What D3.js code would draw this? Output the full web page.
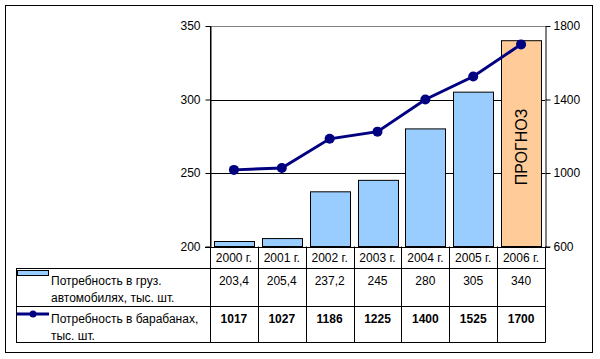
<!DOCTYPE html>
<html><head><meta charset="utf-8">
<script src="https://cdn.jsdelivr.net/npm/d3@7"></script>
<style>body{margin:0;background:#fff}svg{display:block;font-family:"Liberation Sans",Arial,sans-serif}</style>
</head><body><svg id="c" width="600" height="359"></svg>
<script>
const years = ["2000 г.","2001 г.","2002 г.","2003 г.","2004 г.","2005 г.","2006 г."];
const trucks = [203.4,205.4,237.2,245,280,305,340];
const truckLabels = ["203,4","205,4","237,2","245","280","305","340"];
const drums = [1017,1027,1186,1225,1400,1525,1700];
const leftTicks = [200,250,300,350];
const rightTicks = [600,1000,1400,1800];
const seriesNames = [["Потребность в груз.","автомобилях, тыс. шт."],["Потребность в барабанах,","тыс. шт."]];
const forecastLabel = "ПРОГНОЗ";

const svg = d3.select("#c");
const L=210, R=545, T=26, B=246.5;
const x = d3.scaleBand().domain(years).range([L,R]).paddingInner(0.166).paddingOuter(0.083);
const xc = d3.scaleBand().domain(years).range([L,R]);
const yL = d3.scaleLinear().domain([200,350]).range([B,T]);
const yR = d3.scaleLinear().domain([600,1800]).range([B,T]);

// outer border
svg.append("rect").attr("x",5.5).attr("y",5.5).attr("width",587).attr("height",347).attr("fill","none").attr("stroke","#000");

// gridlines
svg.append("g").selectAll("line").data(leftTicks.filter(d=>d>200)).join("line")
  .attr("x1",L).attr("x2",R).attr("y1",d=>Math.round(yL(d))+0.5).attr("y2",d=>Math.round(yL(d))+0.5)
  .attr("stroke",d=>d===350?"#808080":"#000");

// bars
svg.append("g").selectAll("rect").data(years).join("rect")
  .attr("x",d=>Math.round(x(d))+0.5).attr("width",Math.round(x.bandwidth()))
  .attr("y",(d,i)=>yL(trucks[i])).attr("height",(d,i)=>B-yL(trucks[i]))
  .attr("fill",(d,i)=>i===6?"#FFCC99":"#99CCFF").attr("stroke","#000").attr("stroke-width",1);

// forecast label
const lastX = xc(years[6])+xc.bandwidth()/2;
svg.append("text").attr("transform",`translate(${lastX+6},147) rotate(-90)`)
  .attr("text-anchor","middle").attr("font-size",16).attr("fill","#000").text(forecastLabel);

// axes
const axL = svg.append("g").attr("transform",`translate(${L+0.5},0)`).call(d3.axisLeft(yL).tickValues(leftTicks).tickFormat(d3.format("d")).tickSize(5).tickSizeOuter(0));
const axR = svg.append("g").attr("transform",`translate(${R+0.5},0)`).call(d3.axisRight(yR).tickValues(rightTicks).tickFormat(d3.format("d")).tickSize(5).tickSizeOuter(0));
[axL,axR].forEach(a=>{a.select(".domain").attr("stroke","#000");a.selectAll("line").attr("stroke","#000");a.selectAll("text").attr("font-size",12).attr("fill","#000").attr("font-family","Liberation Sans, Arial, sans-serif");});
axL.selectAll("text").attr("x",-10);
axR.selectAll("text").attr("x",8);

// line
const lineGen = d3.line().x((d,i)=>xc(years[i])+xc.bandwidth()/2).y(d=>yR(d));
svg.append("path").datum(drums).attr("d",lineGen).attr("fill","none").attr("stroke","#000080").attr("stroke-width",3);
svg.append("g").selectAll("circle").data(drums).join("circle")
  .attr("cx",(d,i)=>xc(years[i])+xc.bandwidth()/2).attr("cy",d=>yR(d)).attr("r",5).attr("fill","#000080");

// table
const tb = svg.append("g");
const TL = 16;
tb.append("line").attr("x1",L-5).attr("x2",R+5).attr("y1",Math.round(B)+0.5).attr("y2",Math.round(B)+0.5).attr("stroke","#000");
[268,306,342].forEach(yv=>tb.append("line").attr("x1",TL).attr("x2",R+0.5).attr("y1",yv+0.5).attr("y2",yv+0.5).attr("stroke","#000"));
tb.append("line").attr("x1",TL+0.5).attr("x2",TL+0.5).attr("y1",268).attr("y2",342.5).attr("stroke","#000");
years.forEach((d,i)=>{
  const xx = Math.round(xc(d))+0.5;
  tb.append("line").attr("x1",xx).attr("x2",xx).attr("y1",B).attr("y2",342.5).attr("stroke","#000");
});
tb.append("line").attr("x1",R+0.5).attr("x2",R+0.5).attr("y1",B).attr("y2",342.5).attr("stroke","#000");
tb.append("line").attr("x1",L+0.5).attr("x2",L+0.5).attr("y1",T).attr("y2",B).attr("stroke","#000");

years.forEach((d,i)=>{
  const cx = xc(d)+xc.bandwidth()/2;
  tb.append("text").attr("x",cx).attr("y",262).attr("text-anchor","middle").attr("font-size",12).text(d);
  tb.append("text").attr("x",cx).attr("y",285).attr("text-anchor","middle").attr("font-size",12).text(truckLabels[i]);
  tb.append("text").attr("x",cx).attr("y",323).attr("text-anchor","middle").attr("font-size",12).attr("font-weight","bold").text(drums[i]);
});

// legend keys
tb.append("rect").attr("x",17.5).attr("y",270.5).attr("width",31).attr("height",5).attr("fill","#99CCFF").attr("stroke","#000");
tb.append("line").attr("x1",17).attr("x2",49).attr("y1",314).attr("y2",314).attr("stroke","#000080").attr("stroke-width",3);
tb.append("circle").attr("cx",33).attr("cy",314).attr("r",3.5).attr("fill","#000080");
seriesNames.forEach((lines,k)=>{
  lines.forEach((t,j)=>{
    tb.append("text").attr("x",51).attr("y",(k===0?285:323)+j*16.5).attr("font-size",12).text(t);
  });
});
</script></body></html>
